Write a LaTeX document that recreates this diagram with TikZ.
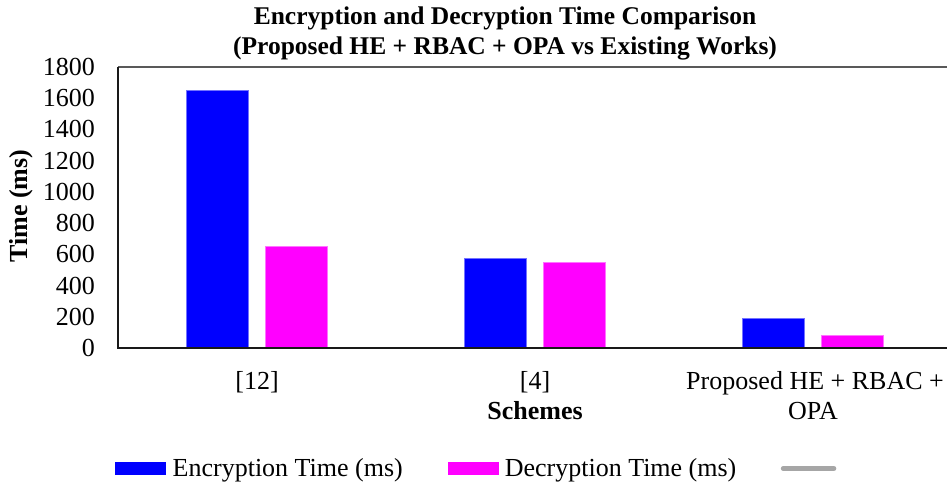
\documentclass[tikz,border=0pt]{standalone}
\usepackage{fontspec}
\setmainfont{Liberation Serif}
\definecolor{encblue}{HTML}{0000FF}
\definecolor{decmag}{HTML}{FF00FF}
\definecolor{framegray}{HTML}{595959}
\definecolor{leggray}{HTML}{A6A6A6}
\begin{document}
\begin{tikzpicture}[x=1pt,y=-1pt,
  basefont/.style={inner sep=0pt, font=\fontsize{26}{30}\selectfont},
  ticklabel/.style={basefont, anchor=east},
  catlabel/.style={basefont, anchor=base},
  axistitle/.style={inner sep=0pt, font=\fontsize{26}{30}\selectfont\bfseries},
  charttitle/.style={inner sep=0pt, anchor=base, font=\fontsize{25.5}{30}\selectfont\bfseries},
  legtext/.style={basefont, anchor=base west},
  encbar/.style={fill=encblue, draw=encblue!55!white, line width=0.6pt},
  decbar/.style={fill=decmag, draw=decmag!55!white, line width=0.6pt},
  axisline/.style={line width=1.6pt, black!90},
  topline/.style={line width=2pt, framegray}]
\useasboundingbox (0,0) rectangle (947,487);

% title
\node[charttitle] (title1) at (505,25) {Encryption and Decryption Time Comparison};
\node[charttitle] (title2) at (505,55) {(Proposed HE + RBAC + OPA vs Existing Works)};

% y ticks
\foreach \v in {0,200,...,1800}
  \node[ticklabel] (t\v) at (95,{348-\v*0.15611}) {\v};

% bars
\foreach \c/\e/\d in {257.2/1650/650, 535/575/550, 812.5/188/80} {
  \draw[encbar] (\c-70.5,348) rectangle (\c-8.5,{348-\e*0.15611});
  \draw[decbar] (\c+8.5,348) rectangle (\c+70.5,{348-\d*0.15611});
}

% frame
\coordinate (tl) at (118,67);
\coordinate (tr) at (947,67);
\coordinate (bl) at (118,348);
\coordinate (br) at (947,348);
\draw[topline] (tl) -- (tr);
\draw[axisline] (tl) -- (bl);
\draw[axisline] ([xshift=-0.8pt]bl) -- (br);

% axis titles
\node[axistitle, rotate=90] (ytitle) at (21,206) {Time (ms)};
\node[axistitle, anchor=base] (xtitle) at (535,419.5) {Schemes};

% category labels
\node[catlabel] (c1) at (257,389.5) {[12]};
\node[catlabel] (c2) at (535,389.5) {[4]};
\node[catlabel] (c3a) at (815,389.5) {Proposed HE + RBAC +};
\node[catlabel] (c3b) at (813,419.5) {OPA};

% legend
\fill[encblue] (115,462.3) rectangle (165.7,475);
\node[legtext] (l1) at (172.5,476.5) {Encryption Time (ms)};
\fill[decmag] (447.7,462.3) rectangle (498.9,475);
\node[legtext] (l2) at (504.6,476.5) {Decryption Time (ms)};
\coordinate (g1) at (783.3,468.5);
\coordinate (g2) at (833.8,468.5);
\draw[line width=5pt, line cap=round, leggray] (g1) -- (g2);
\end{tikzpicture}
\end{document}
